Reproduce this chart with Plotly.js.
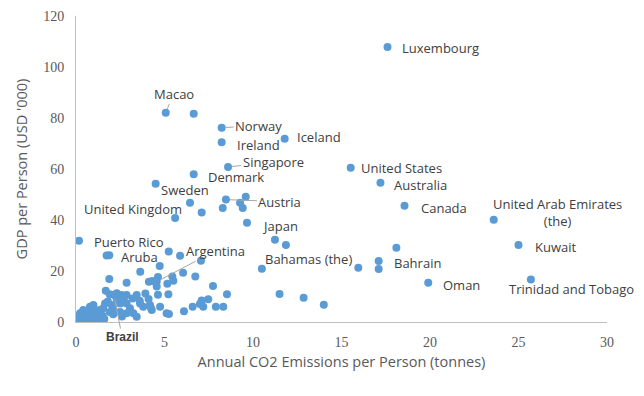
<!DOCTYPE html>
<html><head><meta charset="utf-8">
<script src="https://cdn.plot.ly/plotly-3.0.1.min.js"></script>
<style>html,body{margin:0;padding:0;background:#fff}#chart{width:644px;height:396px}</style>
</head><body><div id="chart"></div>
<script>
// Data: annual CO2 emissions per person (tonnes) vs GDP per person (USD '000)
const countries = ['Luxembourg','Macao','Norway','Ireland','Iceland','Singapore','Denmark','Sweden',
  'United States','Australia','Canada','United Arab Emirates (the)','Kuwait','Trinidad and Tobago','Oman',
  'Bahrain','Austria','United Kingdom','Japan','Bahamas (the)','Puerto Rico','Aruba','Argentina','Brazil'];
const labelledCo2 = [17.6,5.07,8.23,8.23,11.79,8.59,6.65,4.5,15.52,17.2,18.56,23.6,25.0,25.7,19.9,
  17.1,8.47,5.6,9.66,10.5,0.17,1.73,4.56,2.15];
const labelledGdp = [107.8,82.1,76.2,70.5,71.9,60.8,57.9,54.2,60.5,54.6,45.6,40.1,30.2,16.7,15.4,
  23.9,48.0,40.8,38.9,20.9,31.9,26.1,15.8,10.6];

const otherCo2 = [6.65,17.1,18.1,9.27,9.42,9.59,8.29,6.44,7.1,11.24,11.86,15.95,11.5,12.86,14.0,
  1.88,5.24,5.88,7.06,4.73,3.63,6.05,1.88,2.86,4.12,4.3,4.63,5.44,5.5,6.74,5.16,4.56,7.74,
  1.68,1.9,3.92,4.63,5.22,8.53,2.3,2.58,2.86,3.43,7.47,7.1,7.0,7.19,6.59,7.9,8.32,5.25,6.1,
  4.24,3.43,3.24,1.64,2.02,1.54,2.1,2.49,2.86,3.05,3.62,3.8,4.18,4.28,4.75,5.12,0.79,0.98,
  0.41,0.23,0.04,0.41,0.79,1.17,1.36,0.13,0.6,1.07,0.0,1.9,2.49,2.86,1.2,0.3,0.65,1.5,1.0,
  0.5,2.3,2.7,3.2,1.8,3.6,4.1,2.1,2.6,0.9,1.3,0.2,1.6];
const otherGdp = [81.7,20.8,29.1,46.8,44.7,49.1,44.7,46.8,42.9,32.3,30.2,21.3,11.0,9.5,6.8,
  26.2,27.6,26.0,24.0,22.0,19.7,19.3,16.9,15.4,15.8,16.1,17.6,17.8,16.2,17.8,15.0,13.9,14.1,
  12.3,10.9,11.2,10.7,10.9,10.9,11.3,10.6,10.6,10.6,8.9,8.4,7.1,6.0,6.0,6.0,6.0,3.1,4.2,
  5.4,2.1,3.4,7.3,6.7,5.4,5.4,7.3,7.3,5.4,7.3,6.0,6.7,4.7,6.0,3.4,6.0,6.7,
  4.7,3.4,2.1,2.1,3.4,3.4,4.7,0.9,1.3,2.1,0.3,3.9,3.9,3.4,1.5,1.0,2.6,2.5,5.5,
  3.0,9.0,8.5,9.2,8.0,8.3,9.0,3.0,2.2,1.0,0.6,1.6,1.2];

const xTicks = [0,5,10,15,20,25,30];
const yTicks = [0,20,40,60,80,100,120];
const xTitle = 'Annual CO2 Emissions per Person (tonnes)';
const yTitle = "GDP per Person (USD '000)";

// Label placement (pixel offsets from the marker)
const labelPlacement = {
  'Luxembourg': {dx:12, dy:1},
  'Ireland': {dx:13, dy:3},
  'Iceland': {dx:10, dy:-2},
  'Denmark': {dx:12, dy:3},
  'Sweden': {dx:3, dy:6},
  'United States': {dx:8, dy:0},
  'Australia': {dx:12, dy:2},
  'Canada': {dx:14, dy:2},
  'United Arab Emirates (the)': {dx:64, dy:-7, center:true, text:'United Arab Emirates<br>(the)'},
  'Kuwait': {dx:14, dy:2},
  'Trinidad and Tobago': {dx:41, dy:10, center:true},
  'Oman': {dx:13, dy:2},
  'Bahrain': {dx:13, dy:2},
  'Japan': {dx:13, dy:3},
  'Bahamas (the)': {dx:1, dy:-10},
  'United Kingdom': {dx:-42, dy:-9, center:true},
  'Puerto Rico': {dx:13, dy:1},
  'Aruba': {dx:12, dy:2},
  'Macao': {ax:8, ay:-19, leader:true},
  'Norway': {ax:37, ay:-2, leader:true},
  'Singapore': {ax:45, ay:-5, leader:true},
  'Austria': {ax:54, ay:2, leader:true},
  'Argentina': {ax:59, ay:-31, leader:true},
  'Brazil': {ax:8, ay:42, leader:true, small:true}
};

const labelFont = {family:'"Open Sans", "Noto Sans", sans-serif', size:13, color:'#404040'};
const annotations = countries.map((name, i) => {
  const p = labelPlacement[name];
  const base = {x: labelledCo2[i], y: labelledGdp[i], xref:'x', yref:'y',
    text: p.text || name, font: p.small ? {family:'"Liberation Sans", sans-serif', size:12, color:'#404040', weight:'bold'} : labelFont};
  if (p.leader) {
    return Object.assign(base, {showarrow:true, arrowhead:0, arrowwidth:1, arrowcolor:'#a6a6a6',
      ax:p.ax, ay:p.ay, standoff:4});
  }
  return Object.assign(base, {showarrow:false, xanchor: p.center ? 'center' : 'left',
    yanchor:'middle', align:'center', xshift:p.dx, yshift:-p.dy});
});

const marker = {color:'#5B9BD5', size:8, line:{width:0}};
const traces = [
  {type:'scatter', mode:'markers', x: otherCo2, y: otherGdp, marker: marker, hoverinfo:'skip'},
  {type:'scatter', mode:'markers', x: labelledCo2, y: labelledGdp, text: countries, marker: marker}
];

const tickFont = {family:'"Liberation Serif", "DejaVu Serif", serif', size:14, color:'#595959'};
const titleFont = {family:'"Open Sans", "Noto Sans", sans-serif', size:14.5, color:'#595959'};
const layout = {
  width:644, height:396,
  margin:{l:76, r:37, t:16, b:74},
  paper_bgcolor:'#fff', plot_bgcolor:'#fff',
  showlegend:false,
  xaxis:{range:[0,30], tickvals:xTicks, ticktext:xTicks.map(String), showgrid:false, zeroline:false,
    showline:true, linecolor:'#bfbfbf', linewidth:1, ticks:'', tickfont:tickFont, ticklabelstandoff:7,
    title:{text:xTitle, font:titleFont, standoff:8}},
  yaxis:{range:[0,120], tickvals:yTicks, ticktext:yTicks.map(String), showgrid:false, zeroline:false,
    showline:true, linecolor:'#bfbfbf', linewidth:1, ticks:'', tickfont:tickFont, ticklabelstandoff:8,
    title:{text:yTitle, font:titleFont, standoff:12}},
  annotations: annotations
};
Plotly.newPlot('chart', traces, layout, {displayModeBar:false, staticPlot:true});
</script>
</body></html>
